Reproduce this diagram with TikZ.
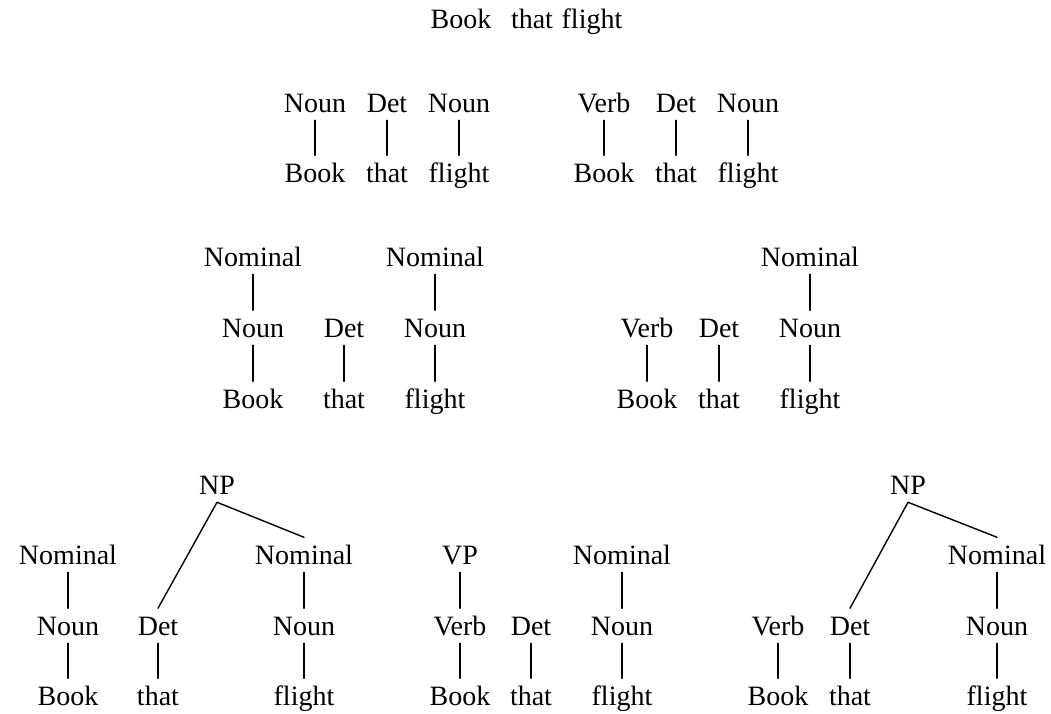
\documentclass[tikz,border=0pt]{standalone}
\usepackage{fontspec}
\setmainfont{Liberation Serif}
\begin{document}
\begin{tikzpicture}[x=0.357pt,y=-0.357pt,font=\fontsize{10}{12}\selectfont,line join=round,line cap=round,line width=0.5pt,
	lab/.style={anchor=base,inner sep=2.3pt,text height=7pt,text depth=0.4pt}]
	\useasboundingbox (0,0) rectangle (1051,713);
	\def\ra{112} \def\rb{182}
	\def\rc{266} \def\rd{337} \def\re{408}
	\def\rf{494} \def\rg{564} \def\rh{635} \def\ri{705}
	%Cau goc
	\node[lab] (s1) at (461,28) {Book};
	\node[lab] (s2) at (532,28) {that};
	\node[lab] (s3) at (592,28) {flight};
	%Hang 1
	\node[lab] (aN) at (315,\ra) {Noun}; \node[lab] (aD) at (387,\ra) {Det}; \node[lab] (aM) at (459,\ra) {Noun};
	\node[lab] (a1) at (315,\rb) {Book}; \node[lab] (a2) at (387,\rb) {that}; \node[lab] (a3) at (459,\rb) {flight};
	\draw (aN.south)--(a1.north) (aD.south)--(a2.north) (aM.south)--(a3.north);
	\node[lab] (bV) at (604,\ra) {Verb}; \node[lab] (bD) at (676,\ra) {Det}; \node[lab] (bN) at (748,\ra) {Noun};
	\node[lab] (b1) at (604,\rb) {Book}; \node[lab] (b2) at (676,\rb) {that}; \node[lab] (b3) at (748,\rb) {flight};
	\draw (bV.south)--(b1.north) (bD.south)--(b2.north) (bN.south)--(b3.north);
	%Hang 2
	\node[lab] (cA) at (253,\rc) {Nominal}; \node[lab] (cB) at (435,\rc) {Nominal};
	\node[lab] (cN) at (253,\rd) {Noun}; \node[lab] (cD) at (344,\rd) {Det}; \node[lab] (cM) at (435,\rd) {Noun};
	\node[lab] (c1) at (253,\re) {Book}; \node[lab] (c2) at (344,\re) {that}; \node[lab] (c3) at (435,\re) {flight};
	\draw (cA.south)--(cN.north) (cB.south)--(cM.north);
	\draw (cN.south)--(c1.north) (cD.south)--(c2.north) (cM.south)--(c3.north);
	\node[lab] (dA) at (810,\rc) {Nominal};
	\node[lab] (dV) at (647,\rd) {Verb}; \node[lab] (dD) at (719,\rd) {Det}; \node[lab] (dN) at (810,\rd) {Noun};
	\node[lab] (d1) at (647,\re) {Book}; \node[lab] (d2) at (719,\re) {that}; \node[lab] (d3) at (810,\re) {flight};
	\draw (dA.south)--(dN.north);
	\draw (dV.south)--(d1.north) (dD.south)--(d2.north) (dN.south)--(d3.north);
	%Hang 3
	\node[lab] (eP) at (217,\rf) {NP};
	\node[lab] (eA) at (68,\rg) {Nominal}; \node[lab] (eB) at (304,\rg) {Nominal};
	\node[lab] (eN) at (68,\rh) {Noun}; \node[lab] (eD) at (158,\rh) {Det}; \node[lab] (eM) at (304,\rh) {Noun};
	\node[lab] (e1) at (68,\ri) {Book}; \node[lab] (e2) at (158,\ri) {that}; \node[lab] (e3) at (304,\ri) {flight};
	\draw (eD.north)--(eP.south)--(eB.north);
	\draw (eA.south)--(eN.north) (eB.south)--(eM.north);
	\draw (eN.south)--(e1.north) (eD.south)--(e2.north) (eM.south)--(e3.north);
	\node[lab] (fP) at (460,\rg) {VP}; \node[lab] (fA) at (622,\rg) {Nominal};
	\node[lab] (fV) at (460,\rh) {Verb}; \node[lab] (fD) at (531,\rh) {Det}; \node[lab] (fN) at (622,\rh) {Noun};
	\node[lab] (f1) at (460,\ri) {Book}; \node[lab] (f2) at (531,\ri) {that}; \node[lab] (f3) at (622,\ri) {flight};
	\draw (fP.south)--(fV.north) (fA.south)--(fN.north);
	\draw (fV.south)--(f1.north) (fD.south)--(f2.north) (fN.south)--(f3.north);
	\node[lab] (gP) at (908,\rf) {NP};
	\node[lab] (gA) at (997,\rg) {Nominal};
	\node[lab] (gV) at (778,\rh) {Verb}; \node[lab] (gD) at (850,\rh) {Det}; \node[lab] (gN) at (997,\rh) {Noun};
	\node[lab] (g1) at (778,\ri) {Book}; \node[lab] (g2) at (850,\ri) {that}; \node[lab] (g3) at (997,\ri) {flight};
	\draw (gD.north)--(gP.south)--(gA.north);
	\draw (gA.south)--(gN.north);
	\draw (gV.south)--(g1.north) (gD.south)--(g2.north) (gN.south)--(g3.north);
\end{tikzpicture}
\end{document}
